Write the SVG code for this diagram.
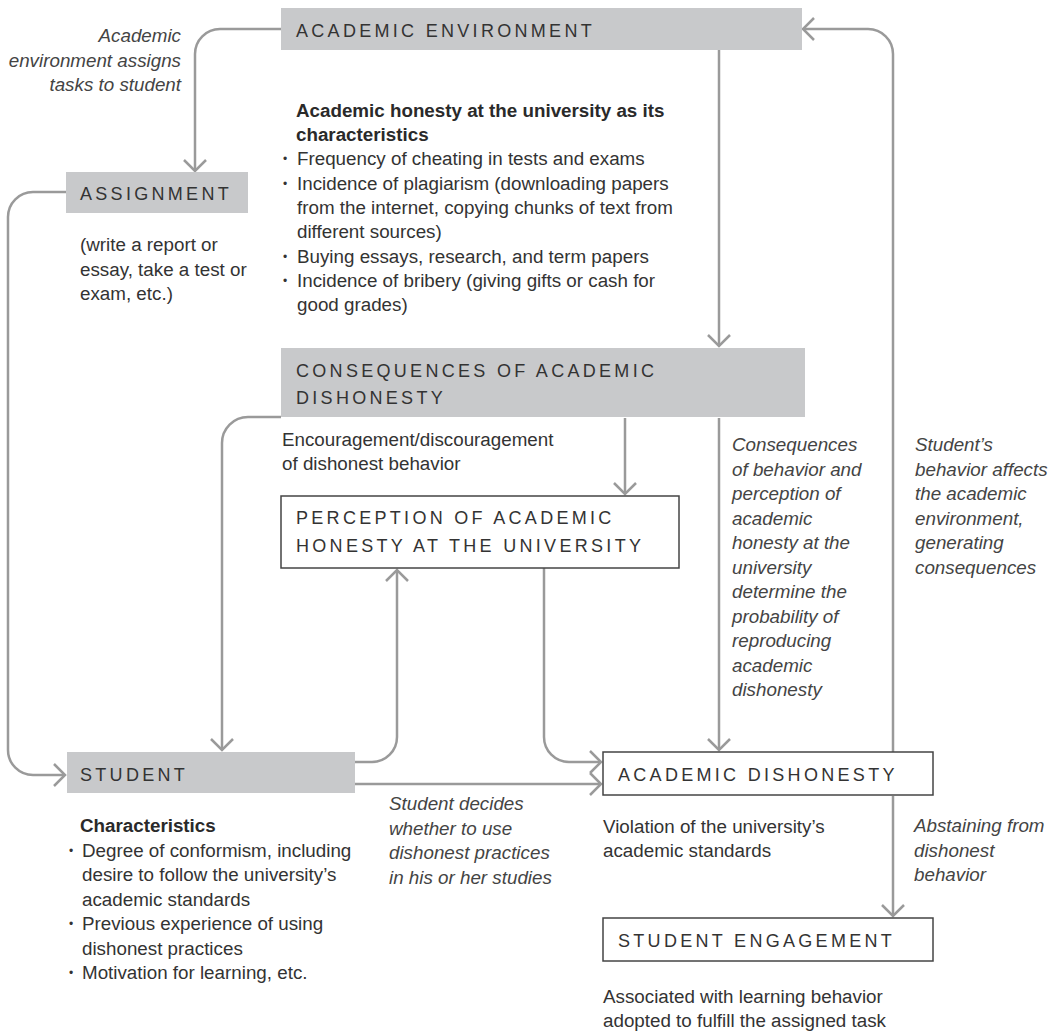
<svg xmlns="http://www.w3.org/2000/svg" width="1056" height="1036" viewBox="0 0 1056 1036">
<defs>
<style>
text{font-family:"Liberation Sans",Arial,sans-serif;font-size:18.8px;fill:#333}
.h{font-size:18px;letter-spacing:3.3px;fill:#333}
.b{font-weight:bold;fill:#2a2a2a}
.i{font-style:italic;fill:#444}
.bul{font-size:12px}
.gray{fill:#c8c9cb}
.white{fill:#fff;stroke:#444;stroke-width:1.5}
.c{fill:none;stroke:#9a9a9a;stroke-width:2.5}
</style>
<marker id="ar" markerUnits="userSpaceOnUse" markerWidth="24" markerHeight="24" viewBox="-14 -12 16 24" refX="0" refY="0" orient="auto">
<path d="M-11,-11 L0,0 L-11,11" fill="none" stroke="#9a9a9a" stroke-width="2.5"/>
</marker>
</defs>
<rect width="1056" height="1036" fill="#fff"/>

<g id="connectors">
<path class="c" d="M281,29 H220 A25,25 0 0 0 195,54 V171" marker-end="url(#ar)"/>
<path class="c" d="M66,192 H33 A25,25 0 0 0 8,217 V750 A25,25 0 0 0 33,775 H65" marker-end="url(#ar)"/>
<path class="c" d="M719,50 V346" marker-end="url(#ar)"/>
<path class="c" d="M281,417 H248 A26,26 0 0 0 222,443 V750" marker-end="url(#ar)"/>
<path class="c" d="M625,418 V494" marker-end="url(#ar)"/>
<path class="c" d="M719,418 V750" marker-end="url(#ar)"/>
<path class="c" d="M355,762 H372 A25,25 0 0 0 397,737 V570" marker-end="url(#ar)"/>
<path class="c" d="M544,568 V737 A25,25 0 0 0 569,762 H601" marker-end="url(#ar)"/>
<path class="c" d="M355,784 H601" marker-end="url(#ar)"/>
<path class="c" d="M893,752 V54 A25,25 0 0 0 868,29 H803" marker-end="url(#ar)"/>
<path class="c" d="M893,796 V916" marker-end="url(#ar)"/>
</g>

<g id="label-assigns">
<text class="i" text-anchor="end" x="181" y="42">Academic</text>
<text class="i" text-anchor="end" x="181" y="67">environment assigns</text>
<text class="i" text-anchor="end" x="181" y="91">tasks to student</text>
</g>

<g id="academic-environment">
<rect class="gray" x="281" y="8" width="521" height="42"/>
<text class="h" x="296" y="37">ACADEMIC ENVIRONMENT</text>
<text class="b" x="296" y="117">Academic honesty at the university as its</text>
<text class="b" x="296" y="141">characteristics</text>
<text class="bul" x="283" y="163">•</text><text x="297" y="165">Frequency of cheating in tests and exams</text>
<text class="bul" x="283" y="188">•</text><text x="297" y="190">Incidence of plagiarism (downloading papers</text>
<text x="297" y="214">from the internet, copying chunks of text from</text>
<text x="297" y="238">different sources)</text>
<text class="bul" x="283" y="261">•</text><text x="297" y="263">Buying essays, research, and term papers</text>
<text class="bul" x="283" y="285">•</text><text x="297" y="287">Incidence of bribery (giving gifts or cash for</text>
<text x="297" y="311">good grades)</text>
</g>

<g id="assignment">
<rect class="gray" x="66" y="172" width="182" height="41"/>
<text class="h" x="80" y="200">ASSIGNMENT</text>
<text x="80" y="251">(write a report or</text>
<text x="80" y="276">essay, take a test or</text>
<text x="80" y="300">exam, etc.)</text>
</g>

<g id="consequences">
<rect class="gray" x="281" y="348" width="524" height="69"/>
<text class="h" x="296" y="377">CONSEQUENCES OF ACADEMIC</text>
<text class="h" x="296" y="404">DISHONESTY</text>
<text x="282" y="446">Encouragement/discouragement</text>
<text x="282" y="470">of dishonest behavior</text>
</g>

<g id="label-consequences">
<text class="i" x="732" y="451">Consequences</text>
<text class="i" x="732" y="475.5">of behavior and</text>
<text class="i" x="732" y="500">perception of</text>
<text class="i" x="732" y="524.5">academic</text>
<text class="i" x="732" y="549">honesty at the</text>
<text class="i" x="732" y="573.5">university</text>
<text class="i" x="732" y="598">determine the</text>
<text class="i" x="732" y="622.5">probability of</text>
<text class="i" x="732" y="647">reproducing</text>
<text class="i" x="732" y="671.5">academic</text>
<text class="i" x="732" y="696">dishonesty</text>
</g>

<g id="label-affects">
<text class="i" x="915" y="451">Student’s</text>
<text class="i" x="915" y="475.5">behavior affects</text>
<text class="i" x="915" y="500">the academic</text>
<text class="i" x="915" y="524.5">environment,</text>
<text class="i" x="915" y="549">generating</text>
<text class="i" x="915" y="573.5">consequences</text>
</g>

<g id="perception">
<rect class="white" x="281" y="496" width="398" height="72"/>
<text class="h" x="296" y="524">PERCEPTION OF ACADEMIC</text>
<text class="h" x="296" y="552">HONESTY AT THE UNIVERSITY</text>
</g>

<g id="student">
<rect class="gray" x="67" y="752" width="288" height="41"/>
<text class="h" x="80" y="781">STUDENT</text>
<text class="b" x="80" y="832">Characteristics</text>
<text class="bul" x="69" y="855">•</text><text x="82" y="857">Degree of conformism, including</text>
<text x="82" y="881">desire to follow the university’s</text>
<text x="82" y="906">academic standards</text>
<text class="bul" x="69" y="928">•</text><text x="82" y="930">Previous experience of using</text>
<text x="82" y="955">dishonest practices</text>
<text class="bul" x="69" y="977">•</text><text x="82" y="979">Motivation for learning, etc.</text>
</g>

<g id="label-decides">
<text class="i" x="389" y="810">Student decides</text>
<text class="i" x="389" y="835">whether to use</text>
<text class="i" x="389" y="859">dishonest practices</text>
<text class="i" x="389" y="884">in his or her studies</text>
</g>

<g id="academic-dishonesty">
<rect class="white" x="603" y="752" width="330" height="43"/>
<text class="h" x="618" y="781">ACADEMIC DISHONESTY</text>
<text x="603" y="833">Violation of the university’s</text>
<text x="603" y="857">academic standards</text>
</g>

<g id="label-abstaining">
<text class="i" x="914" y="832">Abstaining from</text>
<text class="i" x="914" y="857">dishonest</text>
<text class="i" x="914" y="881">behavior</text>
</g>

<g id="student-engagement">
<rect class="white" x="603" y="918" width="330" height="43"/>
<text class="h" x="618" y="947">STUDENT ENGAGEMENT</text>
<text x="603" y="1003">Associated with learning behavior</text>
<text x="603" y="1027">adopted to fulfill the assigned task</text>
</g>
</svg>
